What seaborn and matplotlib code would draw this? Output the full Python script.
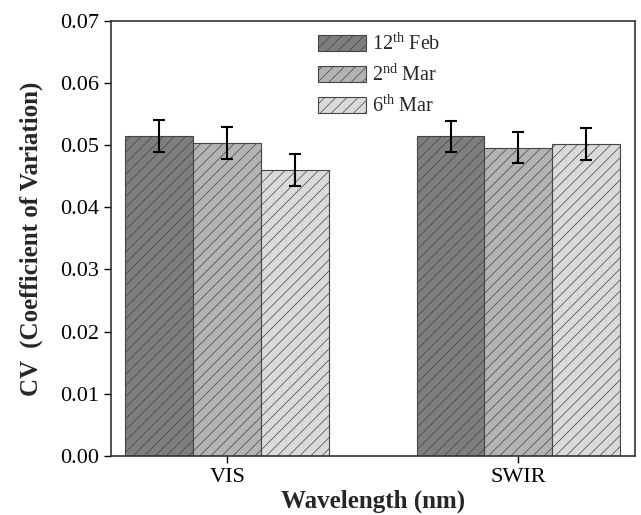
import matplotlib
matplotlib.use("Agg")
import matplotlib.pyplot as plt
import pandas as pd
import seaborn as sns

# values
bands = ["VIS", "SWIR"]
dates = ["12$^{\\mathrm{th}}$ Feb", "2$^{\\mathrm{nd}}$ Mar", "6$^{\\mathrm{th}}$ Mar"]
cv_feb12 = [0.0515, 0.0514]
cv_mar02 = [0.0503, 0.0496]
cv_mar06 = [0.0460, 0.0502]
err_feb12 = [0.0026, 0.0025]
err_mar02 = [0.0026, 0.0025]
err_mar06 = [0.0026, 0.0026]

bar_colors = ["#7e7e7e", "#b3b3b3", "#dadada"]

sns.set_style("ticks")
plt.rcParams["font.family"] = ["Liberation Serif", "DejaVu Serif"]
plt.rcParams["mathtext.fontset"] = "custom"
plt.rcParams["mathtext.rm"] = "Liberation Serif"
plt.rcParams["hatch.linewidth"] = 0.5
plt.rcParams["hatch.color"] = "#444444"

rows = []
for date, vals, errs in zip(dates, [cv_feb12, cv_mar02, cv_mar06],
                            [err_feb12, err_mar02, err_mar06]):
    for band, v, e in zip(bands, vals, errs):
        rows.append({"band": band, "date": date, "cv": v, "err": e})
df = pd.DataFrame(rows)

fig = plt.figure(figsize=(6.41, 5.15), dpi=100)
ax = fig.add_axes([0.1727, 0.1146, 0.8179, 0.8452])

sns.barplot(data=df, x="band", y="cv", hue="date", order=bands, hue_order=dates,
            palette=bar_colors, width=0.7, errorbar=None, saturation=1,
            edgecolor="#444444", linewidth=0.8, ax=ax)

# hatch + error bars on each bar
for container, date in zip(ax.containers, dates):
    sub = df[df["date"] == date].set_index("band").loc[bands]
    for patch, err in zip(container.patches, sub["err"]):
        patch.set_hatch("///")
        cx = patch.get_x() + patch.get_width() / 2
        ax.errorbar(cx, patch.get_height(), yerr=err, color="black",
                    capsize=4.5, elinewidth=1.5, capthick=1.5, zorder=5)

ax.set_xlim(-0.4, 1.4)
ax.set_ylim(0, 0.07)
ax.set_yticks([0.00, 0.01, 0.02, 0.03, 0.04, 0.05, 0.06, 0.07])
ax.yaxis.set_major_formatter(matplotlib.ticker.FormatStrFormatter("%.2f"))
ax.tick_params(axis="both", direction="out", length=5, width=1, labelsize=16, colors="black")

for side in ["left", "right", "top", "bottom"]:
    ax.spines[side].set_visible(True)
    ax.spines[side].set_linewidth(1.2)
    ax.spines[side].set_color("#333333")

ax.set_xlabel("Wavelength (nm)", fontsize=18, fontweight="bold", labelpad=2)
ax.set_ylabel("CV  (Coefficient of Variation)", fontsize=18, fontweight="bold", labelpad=12)

for h in ax.get_legend_handles_labels()[0]:
    h.set_hatch("///")
leg = ax.legend(loc="upper left", bbox_to_anchor=(0.38, 0.99), frameon=False,
                fontsize=14.5, handlelength=2.4, handleheight=0.9,
                handletextpad=0.3, labelspacing=0.45, borderaxespad=0)

fig.savefig("out.png", dpi=100)
